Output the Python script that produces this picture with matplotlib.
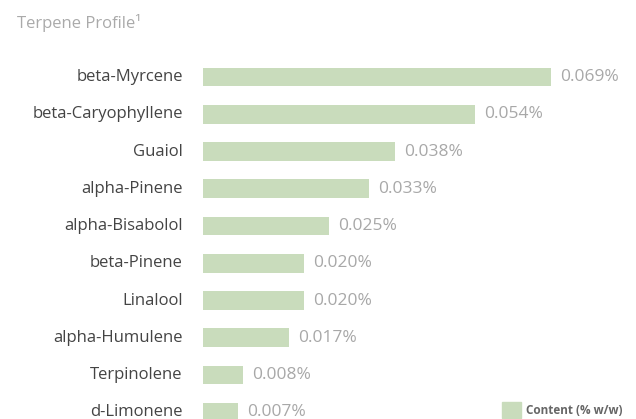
import matplotlib.pyplot as plt
from matplotlib.patches import Rectangle

terpenes = ['beta-Myrcene', 'beta-Caryophyllene', 'Guaiol', 'alpha-Pinene',
            'alpha-Bisabolol', 'beta-Pinene', 'Linalool', 'alpha-Humulene',
            'Terpinolene', 'd-Limonene']
content = [0.069, 0.054, 0.038, 0.033, 0.025, 0.020, 0.020, 0.017, 0.008, 0.007]
value_labels = ['0.069%', '0.054%', '0.038%', '0.033%', '0.025%', '0.020%',
                '0.020%', '0.017%', '0.008%', '0.007%']

plt.rcParams['font.family'] = ['Open Sans', 'DejaVu Sans']

bar_color = '#c9dcbc'

fig = plt.figure(figsize=(6.36, 4.19), dpi=100)
ax = fig.add_axes([0, 0, 1, 1])
pos = list(range(len(terpenes)))
ax.barh(pos, content, height=0.5, color=bar_color)

for i, (name, v, lab) in enumerate(zip(terpenes, content, value_labels)):
    ax.text(-0.0040, i, name, ha='right', va='center', fontsize=12, color='#444444')
    ax.text(v + 0.0018, i, lab, ha='left', va='center', fontsize=12.5, color='#a8a8a8')

ax.set_xlim(-0.04025, 0.08586)
ax.set_ylim(9.181, -2.067)
ax.axis('off')

fig.text(17 / 636, 1 - 23 / 419, 'Terpene Profile\u00b9', fontsize=12, color='#aaaaaa',
         va='center', ha='left')

# legend
fig.add_artist(Rectangle((502 / 636, 1 - 418 / 419), 19 / 636, 16 / 419,
                         transform=fig.transFigure, color=bar_color))
fig.text(526 / 636, 1 - 410 / 419, 'Content (% w/w)', fontsize=8.5, fontweight='bold',
         color='#666666', va='center', ha='left')

fig.savefig('out.png', dpi=100)
